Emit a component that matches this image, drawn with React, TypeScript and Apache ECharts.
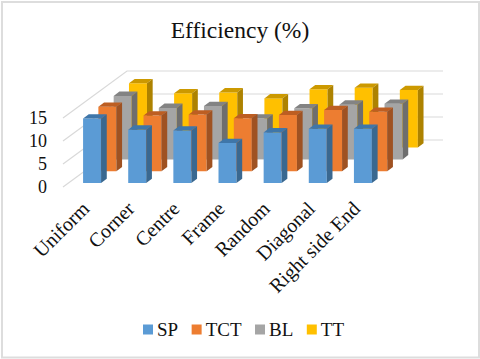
import React, { useEffect, useRef } from "react";
import * as echarts from "echarts";

const categories = ["Uniform", "Corner", "Centre", "Frame", "Random", "Diagonal", "Right side End"];
const spValues = [14.0, 11.6, 11.4, 8.7, 11.0, 11.8, 11.8];
const tctValues = [14.0, 12.1, 12.3, 11.5, 12.2, 13.3, 12.9];
const blValues = [13.8, 11.2, 11.6, 8.9, 11.1, 11.9, 12.1];
const ttValues = [14.0, 11.8, 12.0, 10.7, 12.7, 13.0, 12.5];
const yTicks = [0, 5, 10, 15];

const FONT = "'Liberation Serif', serif";
const WALL_DX = 64;
const WALL_DY = 47;
const BAR_W = 18;
const BAR_DX = 5.7;
const BAR_DY = 4.3;
const SLOT_DX = 15.3;
const SLOT_DY = 11.8;
const FIRST_DX = 6.5;
const FIRST_DY = 4;

const seriesDefs = [
  { name: "SP", values: spValues, front: "#5B9BD5", top: "#3F76A9", side: "#3A6890" },
  { name: "TCT", values: tctValues, front: "#ED7D31", top: "#BD5E22", side: "#9F5222" },
  { name: "BL", values: blValues, front: "#A5A5A5", top: "#838383", side: "#6E6E6E" },
  { name: "TT", values: ttValues, front: "#FFC000", top: "#CC9900", side: "#AD8200" },
];

function barSeries(def: (typeof seriesDefs)[number], k: number) {
  return {
    type: "custom",
    name: def.name,
    z: 10 - k,
    itemStyle: { color: def.front },
    data: def.values.map((v, i) => [i, v]),
    encode: { x: 0, y: 1 },
    renderItem: (_p: any, api: any) => {
      const i = api.value(0);
      const v = api.value(1);
      const base = api.coord([i, 0]);
      const head = api.coord([i, v]);
      const ox = FIRST_DX + SLOT_DX * k;
      const oy = FIRST_DY + SLOT_DY * k;
      const l = base[0] - BAR_W / 2 + ox;
      const r = l + BAR_W;
      const b = base[1] - oy;
      const t = head[1] - oy;
      return {
        type: "group",
        children: [
          {
            type: "polygon",
            shape: { points: [[l, b], [r, b], [r, t], [l, t]] },
            style: { fill: def.front },
          },
          {
            type: "polygon",
            shape: { points: [[l, t], [r, t], [r + BAR_DX, t - BAR_DY], [l + BAR_DX, t - BAR_DY]] },
            style: { fill: def.top },
          },
          {
            type: "polygon",
            shape: { points: [[r, b], [r + BAR_DX, b - BAR_DY], [r + BAR_DX, t - BAR_DY], [r, t]] },
            style: { fill: def.side },
          },
        ],
      };
    },
  };
}

const wallSeries = {
  type: "custom",
  name: "walls",
  z: 1,
  silent: true,
  data: yTicks.map((v) => [0, v]),
  encode: { x: 0, y: 1 },
  renderItem: (p: any, api: any) => {
    const cs = p.coordSys;
    const y = api.coord([0, api.value(1)])[1];
    const line = { stroke: "#D9D9D9", lineWidth: 1.2, fill: "none" };
    return {
      type: "polyline",
      shape: {
        points: [
          [cs.x, y],
          [cs.x + WALL_DX, y - WALL_DY],
          [cs.x + cs.width + WALL_DX, y - WALL_DY],
        ],
      },
      style: line,
    };
  },
};

export default function App() {
  const ref = useRef<HTMLDivElement>(null);
  useEffect(() => {
    document.body.style.margin = "0";
    const chart = echarts.init(ref.current!, undefined, { renderer: "svg" });
    chart.setOption({
      animation: false,
      backgroundColor: "#fff",
      textStyle: { fontFamily: FONT },
      graphic: [
        {
          type: "rect",
          z: -1,
          shape: { x: 2, y: 2, width: 477, height: 355.5 },
          style: { fill: "none", stroke: "#DDDDDD", lineWidth: 2 },
        },
      ],
      title: {
        text: "Efficiency (%)",
        left: "center",
        top: 13,
        textStyle: { fontFamily: FONT, fontSize: 23.5, fontWeight: "normal", color: "#111" },
      },
      legend: {
        data: seriesDefs.map((d) => d.name),
        left: 143,
        top: 320,
        padding: 0,
        icon: "rect",
        itemWidth: 10,
        itemHeight: 10,
        itemGap: 13.5,
        textStyle: { fontFamily: FONT, fontSize: 19, color: "#111", padding: [0, 0, 0, -1] },
      },
      grid: { left: 63, top: 118, width: 316, height: 69 },
      xAxis: {
        type: "category",
        data: categories,
        axisLine: { show: false },
        axisTick: { show: false },
        splitLine: { show: false },
        axisLabel: {
          interval: 0,
          rotate: 45,
          margin: 18,
          fontFamily: FONT,
          fontSize: 20,
          color: "#111",
        },
      },
      yAxis: {
        type: "value",
        min: 0,
        max: 15,
        interval: 5,
        axisLine: { show: false },
        axisTick: { show: false },
        splitLine: { show: false },
        axisLabel: { margin: 16, fontFamily: FONT, fontSize: 18, color: "#111" },
      },
      series: [wallSeries, ...seriesDefs.map(barSeries)],
    });
    return () => chart.dispose();
  }, []);
  return <div ref={ref} style={{ width: 480, height: 359 }} />;
}
